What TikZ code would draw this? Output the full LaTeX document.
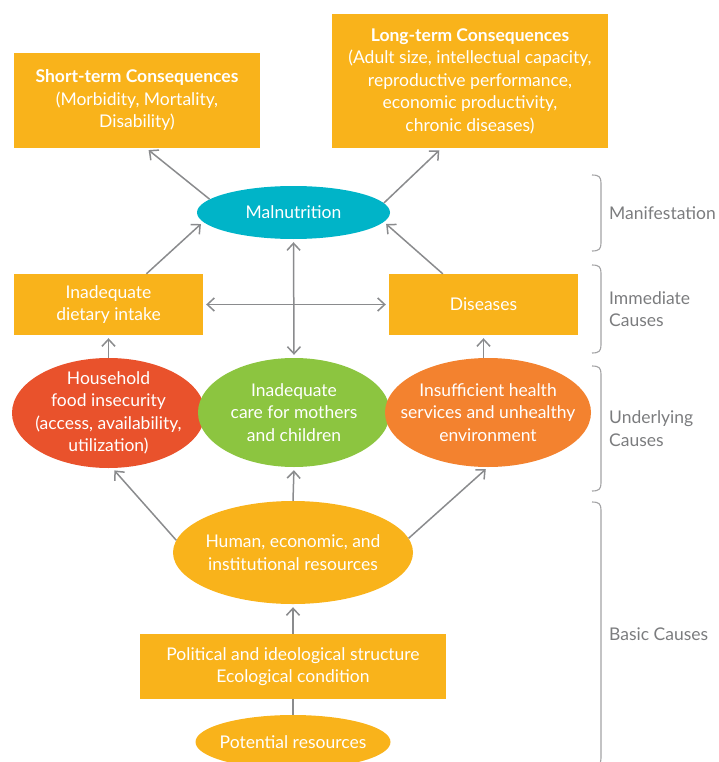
\documentclass[tikz,border=0pt]{standalone}
\usepackage{fontspec}
\setmainfont{Lato}
\usetikzlibrary{shapes.geometric,arrows.meta}
\definecolor{boxYellow}{HTML}{F9B31B}
\definecolor{malBlue}{HTML}{00B4C8}
\definecolor{foodRed}{HTML}{E9522C}
\definecolor{careGreen}{HTML}{8CC540}
\definecolor{healthOrange}{HTML}{F3822F}
\definecolor{arrowGray}{HTML}{8A8B8D}
\definecolor{labelGray}{HTML}{7B7C7E}

\begin{document}
\begin{tikzpicture}[x=1pt, y=-1pt, font=\fontsize{17.5}{22.5}\selectfont,
Box/.style={fill=boxYellow, text=white, align=center, inner sep=0pt},
Oval/.style={ellipse, text=white, align=center, inner sep=-20pt},
Arr/.style={draw=arrowGray, line width=1.5pt, -{Straight Barb[length=7pt,width=13pt]}, shorten >=3pt},
BothArr/.style={Arr, {Straight Barb[length=7pt,width=13pt]}-{Straight Barb[length=7pt,width=13pt]}, shorten <=3pt},
Brace/.style={draw=labelGray!70, line width=1.1pt},
Side/.style={text=labelGray, align=left, anchor=west, inner sep=0pt}]
\useasboundingbox (0,0) rectangle (719,762);
\clip (0,0) rectangle (719,762);

% consequences
\node [Box, minimum width=246, minimum height=95] (short) at (137,100.5) {\textbf{Short-term Consequences}\\(Morbidity, Mortality,\\Disability)};
\node [Box, minimum width=276, minimum height=134] (long) at (470,81) {\textbf{Long-term Consequences}\\(Adult size, intellectual capacity,\\reproductive performance,\\economic productivity,\\chronic diseases)};
\node [Oval, fill=malBlue, minimum width=193, minimum height=53] (mal) at (293.5,212.5) {Malnutrition};

% immediate and underlying causes
\node [Box, minimum width=189, minimum height=61] (diet) at (108.5,304.5) {Inadequate\\dietary intake};
\node [Box, minimum width=189, minimum height=61] (dis) at (483.5,304.5) {Diseases};
\node [Oval, fill=foodRed, minimum width=193, minimum height=110] (house) at (108.5,413) {Household\\food insecurity\\(access, availability,\\utilization)};
\node [Oval, fill=careGreen, minimum width=192, minimum height=109] (care) at (294,412.5) {Inadequate\\care for mothers\\and children};
\node [Oval, fill=healthOrange, minimum width=206, minimum height=109] (health) at (488,412.5) {Insufficient health\\services and unhealthy\\environment};

% basic causes
\node [Oval, fill=boxYellow, minimum width=240, minimum height=103] (human) at (293,552.5) {Human, economic, and\\institutional resources};
\node [Box, minimum width=306, minimum height=65] (polit) at (293,666.5) {Political and ideological structure\\Ecological condition};
\node [Oval, fill=boxYellow, minimum width=195, minimum height=54] (potent) at (293,742) {Potential resources};

\foreach \from/\to in {mal.171/short.-79, mal.6/long.-113, diet.39/mal.186, dis.143/mal.354,
  house.north/diet.south, {dis.south |- health.north}/dis.south, human.174/house.-86,
  human.north/care.south, human.7/health.south, polit.north/human.south} {
  \draw [Arr] (\from) -- (\to);
}
\draw [BothArr] (mal.south) -- (care.north);
\draw [BothArr] (diet.east) -- (dis.west);
\draw [draw=arrowGray, line width=1.5pt] (potent.north) -- (polit.south);

% levels on the right
\foreach \yTop/\yBot/\name in {175/251/Manifestation, 265/353/{Immediate\\Causes},
  366/491/{Underlying\\Causes}, 502/766/{Basic Causes}} {
  \draw [Brace] (592,\yTop) .. controls (599,\yTop) and (601,\yTop+2) .. (601,\yTop+8)
    -- (601,\yBot-8) .. controls (601,\yBot-2) and (599,\yBot) .. (592,\yBot);
  \node [Side] (lbl\yTop) at (609,{(\yTop+\yBot)/2}) {\name};
}

\end{tikzpicture}
\end{document}
